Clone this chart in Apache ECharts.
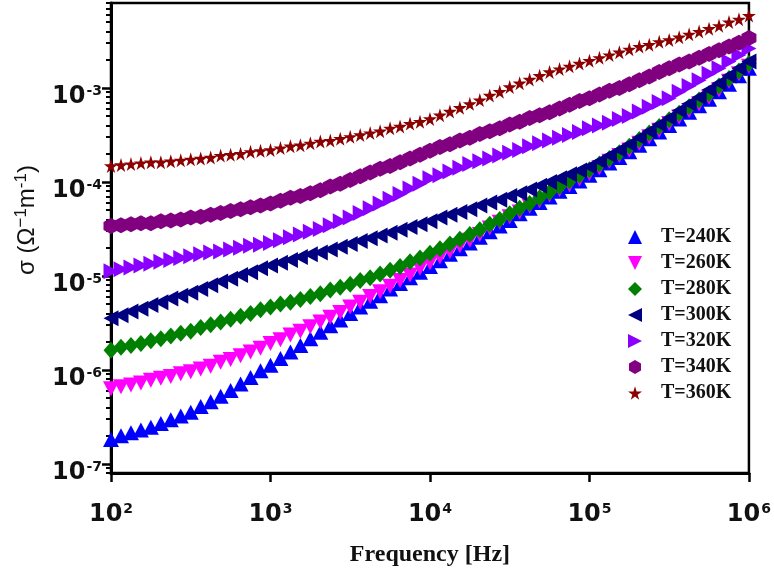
<!DOCTYPE html>
<html>
<head>
<meta charset="utf-8">
<script src="https://cdn.jsdelivr.net/npm/echarts@6.0.0/dist/echarts.min.js"></script>
<style>
html,body{margin:0;padding:0;background:#fff;}
#chart{width:774px;height:572px;}
</style>
</head>
<body>
<div id="chart"></div>
<script>
// Frequency (Hz)
const freq = [100,115.5,133.4,154,177.8,205.4,237.1,273.8,316.2,365.2,421.7,487,562.3,649.4,749.9,866,
1000,1155,1334,1540,1778,2054,2371,2738,3162,3652,4217,4870,5623,6494,7499,8660,
10000,11550,13340,15400,17780,20540,23710,27380,31620,36520,42170,48700,56230,64940,74990,86600,
100000,115500,133400,154000,177800,205400,237100,273800,316200,365200,421700,487000,562300,649400,749900,866000,1000000];

// log10 of conductivity sigma (Ohm^-1 m^-1)
const logSigma240 = [-6.74,-6.70,-6.67,-6.64,-6.61,-6.57,-6.53,-6.49,-6.45,-6.39,-6.34,-6.28,-6.22,-6.15,-6.08,-6.01,
-5.95,-5.88,-5.81,-5.74,-5.67,-5.60,-5.53,-5.47,-5.40,-5.33,-5.27,-5.21,-5.14,-5.08,-5.02,-4.96,
-4.90,-4.84,-4.77,-4.71,-4.65,-4.59,-4.53,-4.47,-4.41,-4.34,-4.28,-4.22,-4.16,-4.10,-4.05,-3.99,
-3.93,-3.87,-3.80,-3.74,-3.68,-3.61,-3.54,-3.47,-3.40,-3.33,-3.26,-3.19,-3.12,-3.04,-2.96,-2.87,-2.79];
const logSigma260 = [-6.20,-6.18,-6.16,-6.14,-6.11,-6.09,-6.07,-6.04,-6.02,-5.99,-5.96,-5.92,-5.89,-5.85,-5.81,-5.77,
-5.72,-5.68,-5.63,-5.59,-5.54,-5.49,-5.44,-5.39,-5.33,-5.28,-5.22,-5.17,-5.11,-5.05,-4.99,-4.92,
-4.86,-4.80,-4.74,-4.68,-4.62,-4.56,-4.49,-4.43,-4.37,-4.32,-4.26,-4.20,-4.14,-4.08,-4.03,-3.97,
-3.91,-3.85,-3.78,-3.72,-3.66,-3.59,-3.52,-3.45,-3.38,-3.31,-3.24,-3.17,-3.10,-3.02,-2.93,-2.85,-2.77];
const logSigma280 = [-5.79,-5.76,-5.74,-5.72,-5.69,-5.67,-5.64,-5.61,-5.59,-5.55,-5.52,-5.49,-5.46,-5.43,-5.40,-5.36,
-5.33,-5.30,-5.28,-5.25,-5.22,-5.19,-5.15,-5.12,-5.09,-5.05,-5.02,-4.98,-4.94,-4.90,-4.85,-4.81,
-4.76,-4.71,-4.66,-4.61,-4.56,-4.51,-4.45,-4.40,-4.34,-4.28,-4.23,-4.17,-4.11,-4.05,-3.99,-3.93,
-3.87,-3.81,-3.75,-3.69,-3.62,-3.55,-3.48,-3.41,-3.34,-3.27,-3.20,-3.13,-3.06,-2.98,-2.90,-2.82,-2.74];
const logSigma300 = [-5.45,-5.42,-5.38,-5.35,-5.31,-5.28,-5.24,-5.21,-5.18,-5.14,-5.10,-5.06,-5.03,-4.99,-4.96,-4.92,
-4.89,-4.86,-4.83,-4.80,-4.77,-4.75,-4.72,-4.69,-4.66,-4.63,-4.60,-4.57,-4.54,-4.51,-4.48,-4.45,
-4.42,-4.38,-4.35,-4.32,-4.29,-4.25,-4.22,-4.19,-4.15,-4.12,-4.08,-4.04,-4.00,-3.96,-3.92,-3.88,
-3.84,-3.78,-3.72,-3.66,-3.60,-3.53,-3.46,-3.39,-3.32,-3.24,-3.17,-3.10,-3.02,-2.95,-2.87,-2.79,-2.72];
const logSigma320 = [-4.95,-4.93,-4.91,-4.89,-4.87,-4.85,-4.83,-4.81,-4.79,-4.77,-4.75,-4.74,-4.72,-4.70,-4.68,-4.67,
-4.65,-4.62,-4.59,-4.56,-4.53,-4.50,-4.46,-4.42,-4.38,-4.33,-4.28,-4.23,-4.18,-4.13,-4.07,-4.02,
-3.96,-3.93,-3.89,-3.85,-3.81,-3.78,-3.75,-3.72,-3.69,-3.66,-3.62,-3.59,-3.56,-3.53,-3.50,-3.47,
-3.43,-3.40,-3.37,-3.33,-3.30,-3.25,-3.20,-3.15,-3.11,-3.04,-2.98,-2.92,-2.85,-2.79,-2.72,-2.65,-2.58];
const logSigma340 = [-4.47,-4.46,-4.45,-4.44,-4.44,-4.42,-4.41,-4.40,-4.38,-4.37,-4.35,-4.33,-4.31,-4.29,-4.27,-4.25,
-4.23,-4.20,-4.17,-4.15,-4.12,-4.09,-4.05,-4.02,-3.98,-3.94,-3.90,-3.86,-3.83,-3.79,-3.75,-3.71,
-3.67,-3.63,-3.60,-3.56,-3.53,-3.49,-3.46,-3.43,-3.39,-3.36,-3.32,-3.29,-3.26,-3.22,-3.18,-3.14,
-3.11,-3.07,-3.03,-3.00,-2.96,-2.92,-2.88,-2.83,-2.79,-2.75,-2.72,-2.68,-2.64,-2.60,-2.56,-2.52,-2.47];
const logSigma360 = [-3.83,-3.82,-3.81,-3.80,-3.79,-3.79,-3.78,-3.77,-3.76,-3.75,-3.74,-3.72,-3.71,-3.70,-3.68,-3.67,
-3.66,-3.64,-3.62,-3.61,-3.59,-3.57,-3.56,-3.54,-3.52,-3.50,-3.48,-3.46,-3.43,-3.41,-3.38,-3.36,
-3.33,-3.29,-3.25,-3.21,-3.17,-3.13,-3.08,-3.04,-2.99,-2.95,-2.91,-2.87,-2.83,-2.80,-2.77,-2.74,
-2.71,-2.68,-2.65,-2.62,-2.59,-2.56,-2.54,-2.51,-2.49,-2.46,-2.43,-2.40,-2.37,-2.34,-2.30,-2.27,-2.23];

const seriesNames = ['T=240K','T=260K','T=280K','T=300K','T=320K','T=340K','T=360K'];
const seriesLogs = [logSigma240,logSigma260,logSigma280,logSigma300,logSigma320,logSigma340,logSigma360];

// tick labels
const xTickValues = [1e2,1e3,1e4,1e5,1e6];
const yTickValues = [1e-7,1e-6,1e-5,1e-4,1e-3];

const colors = ['#0000FF','#FF00FF','#008000','#000080','#8A00FF','#800080','#8B0000'];
const triUp = 'path://M50,0 L100,100 L0,100 Z';
const triDown = 'path://M0,0 L100,0 L50,100 Z';
const triLeft = 'path://M0,50 L100,0 L100,100 Z';
const triRight = 'path://M0,0 L100,50 L0,100 Z';
const hexPath = 'path://M50,0 L93,25 L93,75 L50,100 L7,75 L7,25 Z';
const starPath = 'path://M50,0 L61,35 L98,35 L68,57 L79,91 L50,70 L21,91 L32,57 L2,35 L39,35 Z';
const symbols = [triUp,triDown,'diamond',triLeft,triRight,hexPath,starPath];
const sizes = [[16,15],[16,15],[15,17],[15,16],[15,16],[15,16],14];

const yMinorTicks = [];
for (let e = -8; e <= -3; e++) {
  for (let m = 2; m <= 9; m++) {
    const v = m * Math.pow(10, e);
    if (v >= 8e-8 - 1e-20 && v <= 8e-3 + 1e-15) yMinorTicks.push(v);
  }
}

function powLabel(v) {
  const e = Math.round(Math.log10(v));
  return '{b|10}{s|' + e + '}';
}
const labelRich = {
  b: {fontFamily: 'DejaVu Sans', fontWeight: 'bold', fontSize: 24, color: '#111'},
  s: {fontFamily: 'DejaVu Sans', fontWeight: 'bold', fontSize: 14, color: '#111', padding: [0, 0, 12, 1]}
};

const chart = echarts.init(document.getElementById('chart'), null, {renderer: 'canvas'});
const option = {
  animation: false,
  backgroundColor: '#fff',
  grid: {left: 111, right: 20, top: 3, bottom: 94, show: true, borderColor: '#000', borderWidth: 2.5, backgroundColor: 'transparent'},
  legend: {
    orient: 'vertical', left: 623, top: 222,
    itemWidth: 14, itemHeight: 14, itemGap: 6,
    data: seriesNames,
    textStyle: {fontFamily: 'Liberation Serif', fontWeight: 'bold', fontSize: 20, color: '#111', lineHeight: 20, padding: [0, 0, 0, 14]}
  },
  xAxis: {
    type: 'log', logBase: 10, min: 100, max: 1e6,
    name: 'Frequency [Hz]', nameLocation: 'middle', nameGap: 70,
    nameTextStyle: {fontFamily: 'Liberation Serif', fontWeight: 'bold', fontSize: 24, color: '#111'},
    axisLine: {onZero: false, lineStyle: {color: '#000', width: 3}},
    axisTick: {customValues: xTickValues, length: 9, lineStyle: {color: '#000', width: 2.5}},
    axisLabel: {customValues: xTickValues, formatter: powLabel, rich: labelRich, margin: 29},
    splitLine: {show: false}
  },
  yAxis: [{
    type: 'log', logBase: 10, min: 8e-8, max: 8e-3, position: 'left',
    name: '{n|σ (Ω}{p|−1}{n|m}{p|-1}{n|)}', nameLocation: 'middle', nameGap: 70, nameRotate: 90,
    nameTextStyle: {
      padding: [0, 0, 0, 36],
      rich: {
        n: {fontFamily: 'Liberation Sans', fontSize: 24, color: '#111'},
        p: {fontFamily: 'Liberation Sans', fontSize: 17, color: '#111', padding: [0, 0, 11, 0]}
      }
    },
    axisLine: {onZero: false, lineStyle: {color: '#000', width: 3}},
    axisTick: {customValues: yTickValues, length: 9, lineStyle: {color: '#000', width: 2.5}},
    axisLabel: {customValues: yTickValues, formatter: powLabel, rich: labelRich, margin: 9, padding: [18, 0, 0, 0]},
    splitLine: {show: false}
  }, {
    type: 'log', logBase: 10, min: 8e-8, max: 8e-3, position: 'left', offset: 0,
    axisLine: {show: false},
    axisTick: {customValues: yMinorTicks, length: 5, lineStyle: {color: '#000', width: 2}},
    axisLabel: {show: false},
    splitLine: {show: false}
  }],
  series: seriesNames.map((name, i) => ({
    name: name,
    type: 'scatter',
    yAxisIndex: 0,
    symbol: symbols[i],
    symbolSize: sizes[i],
    itemStyle: {color: colors[i], opacity: 1},
    data: freq.map((f, k) => [f, Math.pow(10, seriesLogs[i][k])])
  }))
};
chart.setOption(option);
</script>
</body>
</html>
